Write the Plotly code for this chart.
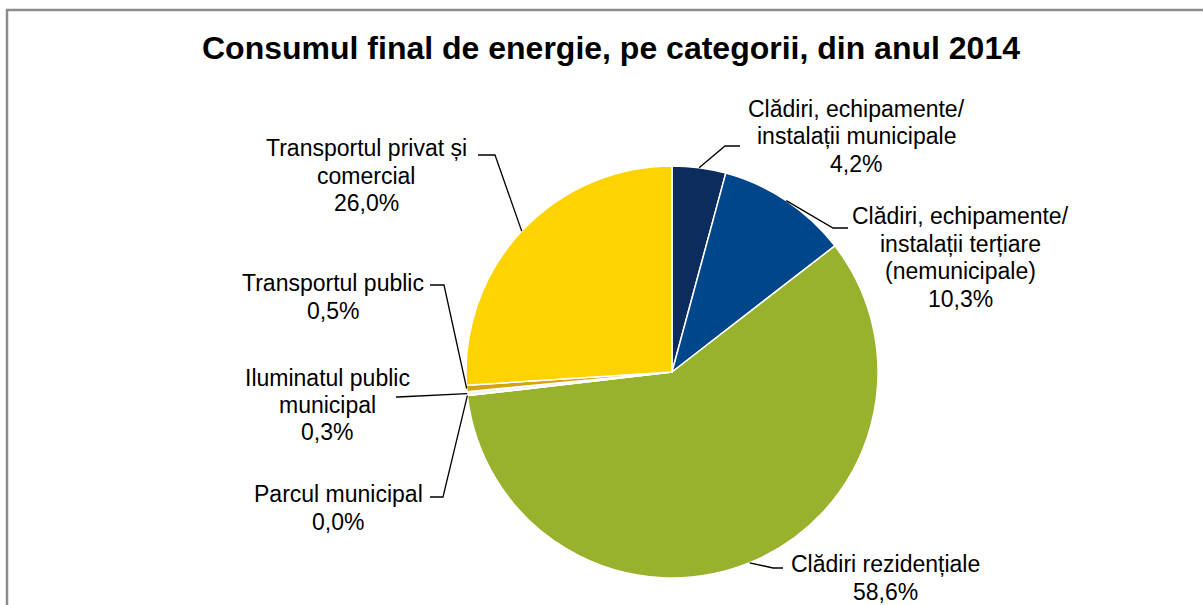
import math
import plotly.graph_objects as go

title = "Consumul final de energie, pe categorii, din anul 2014"
categories = [
    "Clădiri, echipamente/<br>instalații municipale",
    "Clădiri, echipamente/<br>instalații terțiare<br>(nemunicipale)",
    "Clădiri rezidențiale",
    "Parcul municipal",
    "Iluminatul public<br>municipal",
    "Transportul public",
    "Transportul privat și<br>comercial",
]
values = [4.2, 10.3, 58.6, 0.0, 0.3, 0.5, 26.0]
colors = ["#0C2C5E", "#00468B", "#99B22D", "#C8C8C8", "#F4F4F4", "#D4A413", "#FFD300"]

W, H = 1203, 605
CX, CY, R = 672, 372, 206
LINE_H = 27.5
FONT = "Liberation Sans, Arial"

# label layout (pixel positions: text block centre, elbow, line end)
label_pos = [(856, 136.5), (960, 257.5), (885, 578), (338, 508), (327, 405), (333, 297), (366, 175.5)]
elbows = [(725, 146), (833, 228), (773, 568), (443, 497), (398, 397), (444, 285), (495, 155)]
ends = [(740, 146), (848, 228), (783, 568), (430, 497), (396, 397), (430, 285), (478, 155)]


def px(x):
    return x / W


def py(y):
    return 1 - y / H


fig = go.Figure()
fig.add_trace(go.Pie(
    labels=[c.replace("<br>", " ") for c in categories],
    values=values,
    sort=False,
    direction="clockwise",
    rotation=0,
    textinfo="none",
    hoverinfo="label+percent",
    marker=dict(colors=colors, line=dict(color="white", width=1.5)),
    domain=dict(x=[px(CX - R), px(CX + R)], y=[py(CY + R), py(CY - R)]),
    showlegend=False,
))

total = sum(values)
cum = 0.0
shapes = []
annotations = []
for i, v in enumerate(values):
    mid = (cum + v / 2) / total * 2 * math.pi
    cum += v
    ex = CX + R * math.sin(mid)
    ey = CY - R * math.cos(mid)
    bx, by = elbows[i]
    lx, ly = ends[i]
    shapes.append(dict(
        type="path", xref="paper", yref="paper",
        path=f"M {px(ex)} {py(ey)} L {px(bx)} {py(by)} L {px(lx)} {py(ly)}",
        line=dict(color="black", width=1.3),
    ))
    tx, ty = label_pos[i]
    pct = f"{v:.1f}".replace(".", ",") + "%"
    lines = categories[i].split("<br>") + [pct]
    n = len(lines)
    for k, line in enumerate(lines):
        yk = ty + (k - (n - 1) / 2) * LINE_H
        annotations.append(dict(
            x=px(tx), y=py(yk), xref="paper", yref="paper",
            text=line, showarrow=False,
            xanchor="center", yanchor="middle", align="center",
            font=dict(family=FONT, size=23, color="black"),
        ))

annotations.append(dict(
    x=px(611), y=py(48), xref="paper", yref="paper",
    text=f"<b>{title}</b>", showarrow=False,
    xanchor="center", yanchor="middle",
    font=dict(family=FONT, size=32, color="black"),
))

# chart frame
shapes.append(dict(
    type="rect", xref="paper", yref="paper",
    x0=px(7), x1=px(1215), y0=py(620), y1=py(10),
    line=dict(color="#8C8C8C", width=2.5), layer="below",
))

fig.update_layout(
    width=W, height=H,
    margin=dict(l=0, r=0, t=0, b=0),
    paper_bgcolor="white", plot_bgcolor="white",
    shapes=shapes, annotations=annotations,
)
fig.write_html(
    "out.html",
    config={"displayModeBar": False},
    post_script="document.body.style.margin='0px';",
)
